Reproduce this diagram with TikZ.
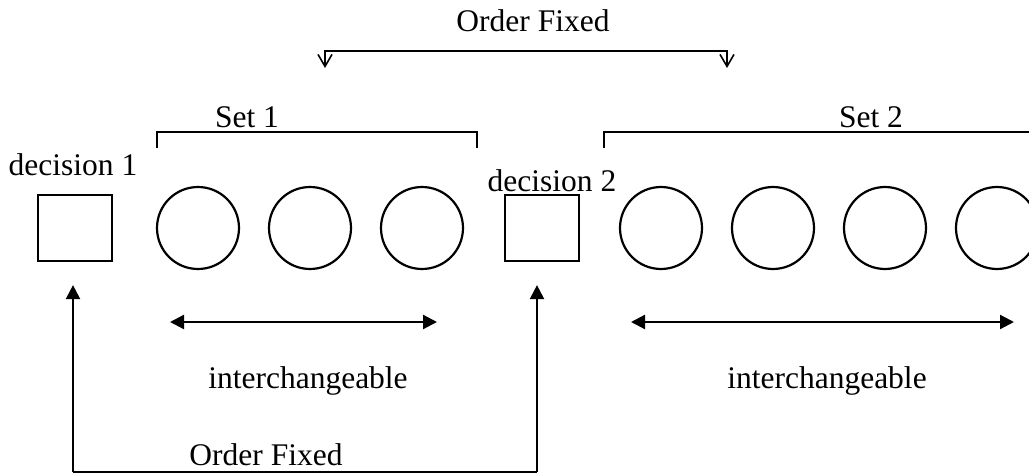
\documentclass[tikz,border=0pt]{standalone}
\usepackage{fontspec}
\setmainfont{Liberation Serif}
\usetikzlibrary{arrows.meta}

\begin{document}
\begin{tikzpicture}[
  x=1pt, y=-1pt,
  line width=2.2pt,
  lbl/.style={font=\fontsize{31.5}{31.5}\selectfont, anchor=base, inner sep=0pt},
  decbox/.style={draw, minimum width=74pt, minimum height=66pt, inner sep=0pt},
  item/.style={draw, circle, minimum size=82pt, inner sep=0pt},
  bracketline/.style={line width=2.2pt},
  fixedarrow/.style={-{Straight Barb[length=12pt, width=14pt, line width=1.6pt]}},
  uparrow/.style={-{Triangle[length=14pt, width=14pt]}},
  swaparrow/.style={{Triangle[length=14pt, width=14pt]}-{Triangle[length=14pt, width=14pt]}}
]
\useasboundingbox (0,0) rectangle (1029,476);
\clip (0,0) rectangle (1029,476);

% decision boxes
\node[decbox] (d1) at (75,228) {};
\node[decbox] (d2) at (542,228) {};

% items of set 1
\node[item] (a1) at (198,228) {};
\node[item] (a2) at (310,228) {};
\node[item] (a3) at (422,228) {};

% items of set 2
\node[item] (b1) at (661,228) {};
\node[item] (b2) at (773,228) {};
\node[item] (b3) at (885,228) {};
\node[item] (b4) at (997,228) {};

% labels
\node[lbl] (t1) at (73,176) {decision 1};
\node[lbl] (t2) at (552,192) {decision 2};
\node[lbl] (s1) at (247,128) {Set 1};
\node[lbl] (s2) at (871,128) {Set 2};
\node[lbl] (oft) at (533,32) {Order Fixed};
\node[lbl] (ofb) at (266,465) {Order Fixed};
\node[lbl] (ic1) at (308,388) {interchangeable};
\node[lbl] (ic2) at (827,388) {interchangeable};

% set brackets
\coordinate (s1l) at (157,148);
\coordinate (s1r) at (477,148);
\draw[bracketline] (s1l) |- (317,132) -| (s1r);
\coordinate (s2l) at (604,148);
\coordinate (s2r) at (1035,132);
\draw[bracketline] (s2l) |- (s2r);

% fixed order between the sets (top)
\coordinate (ofl) at (325,68);
\coordinate (ofr) at (727,68);
\draw[fixedarrow] (526,51) -| (ofl);
\draw[fixedarrow] (526,51) -| (ofr);

% interchangeable ranges
\coordinate (i1l) at (170,322);
\coordinate (i1r) at (437,322);
\coordinate (i2l) at (631,322);
\coordinate (i2r) at (1014,322);
\draw[swaparrow] (i1l) -- (i1r);
\draw[swaparrow] (i2l) -- (i2r);

% fixed order of the decisions (bottom)
\coordinate (u1) at (73,472);
\coordinate (u2) at (537,472);
\draw (u1) -- (u2);
\draw[uparrow] (u1) -- ([yshift=-23pt]d1.south -| u1);
\draw[uparrow] (u2) -- ([yshift=-23pt]d2.south -| u2);
\end{tikzpicture}
\end{document}
